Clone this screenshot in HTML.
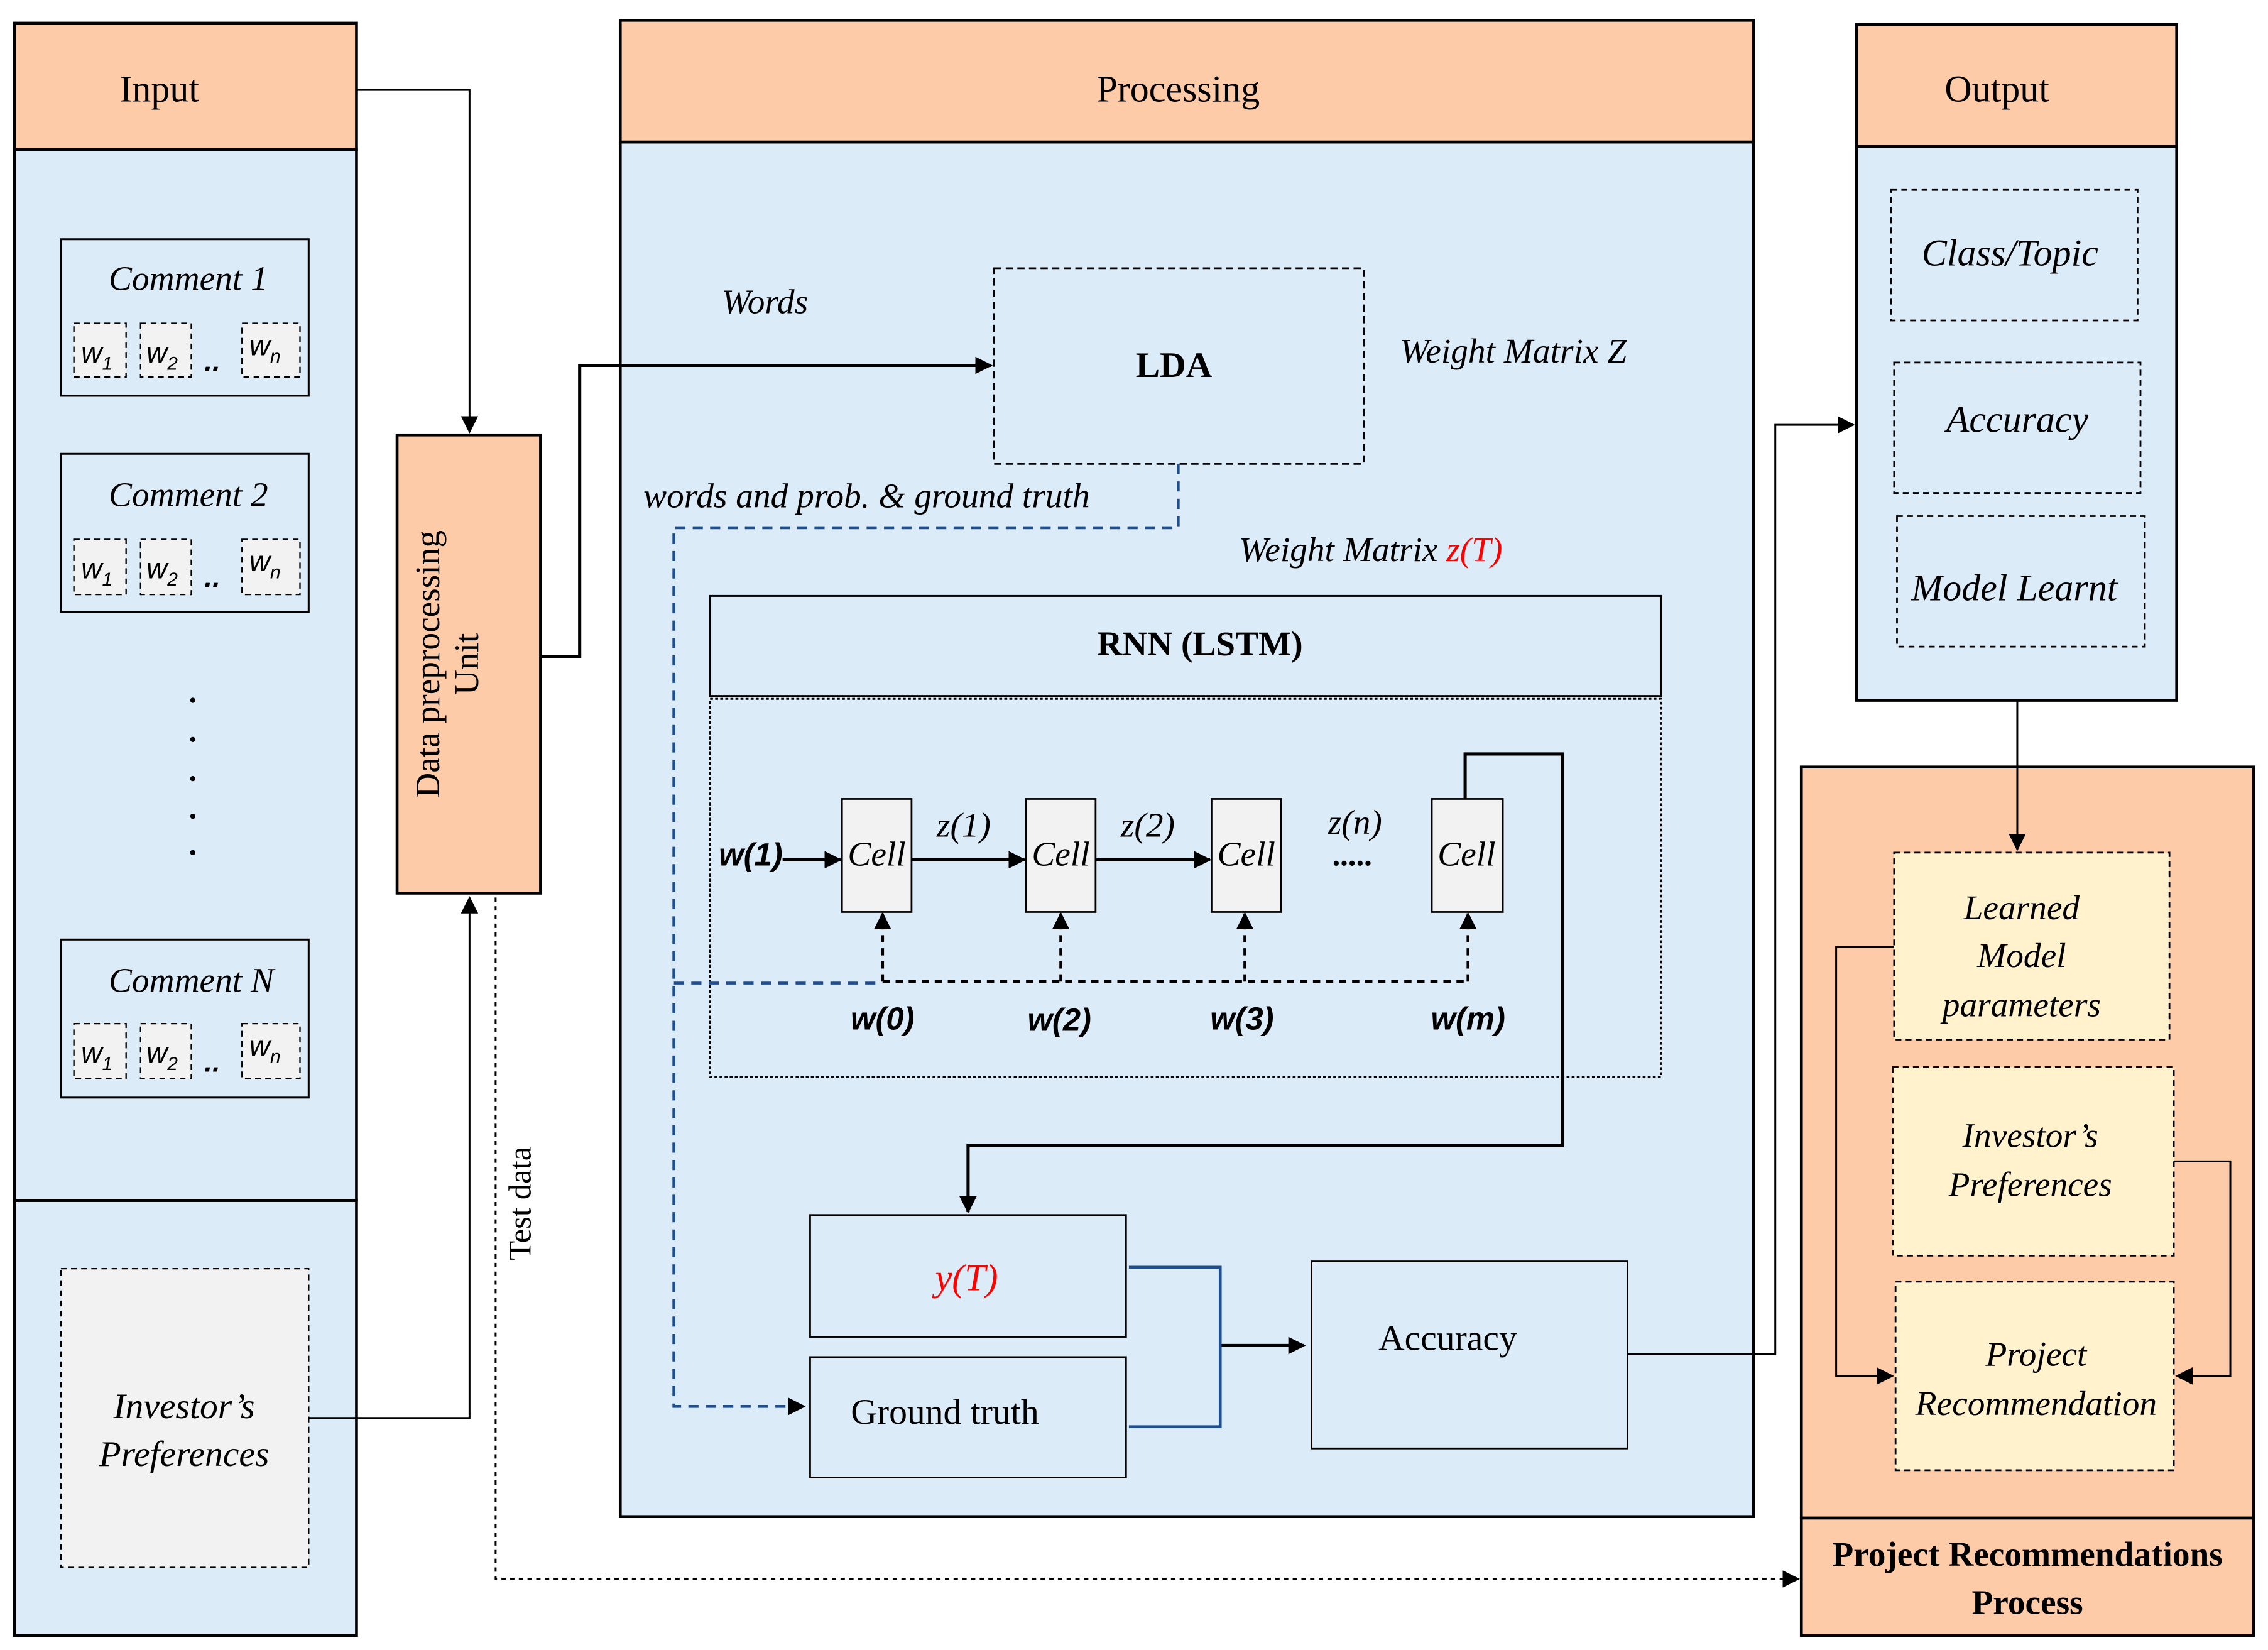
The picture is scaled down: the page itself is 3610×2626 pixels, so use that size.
<!DOCTYPE html>
<html><head><meta charset="utf-8"><style>
html,body{margin:0;padding:0;background:#fff;}
svg{display:block;}
text{font-family:"Liberation Serif",serif;fill:#000;}
.i{font-style:italic;}
.b{font-weight:bold;}
</style></head><body>
<svg width="3610" height="2626" viewBox="0 0 1565 1138" preserveAspectRatio="none" xmlns="http://www.w3.org/2000/svg">
<defs>
<marker id="a" markerWidth="8" markerHeight="8" refX="7" refY="4" orient="auto" markerUnits="userSpaceOnUse"><path d="M0,0 L8,4 L0,8z" fill="#000"/></marker>
<marker id="A" markerWidth="12" markerHeight="12" refX="11" refY="6" orient="auto" markerUnits="userSpaceOnUse"><path d="M0,0 L12,6 L0,12z" fill="#000"/></marker>
</defs>
<rect width="1565" height="1138" fill="#fff"/>
<!-- Input column -->
<rect x="10" y="16" width="236" height="87" fill="#fdcba8" stroke="#000" stroke-width="2"/>
<rect x="10" y="103" width="236" height="725" fill="#dbebf7" stroke="#000" stroke-width="2"/>
<rect x="10" y="828" width="236" height="300" fill="#dbebf7" stroke="#000" stroke-width="2"/>
<text x="110" y="70" font-size="26" text-anchor="middle">Input</text>
<g stroke="#000" stroke-width="1.3">
<rect x="42" y="165" width="171" height="108" fill="#dbebf7"/>
<rect x="42" y="313" width="171" height="109" fill="#dbebf7"/>
<rect x="42" y="648" width="171" height="109" fill="#dbebf7"/>
</g>
<g stroke="#000" stroke-width="1" stroke-dasharray="4,3" fill="#f2f2f2">
<rect x="51" y="223" width="36" height="37"/><rect x="97" y="223" width="35" height="37"/><rect x="167" y="223" width="40" height="37"/>
<rect x="51" y="372" width="36" height="38"/><rect x="97" y="372" width="35" height="38"/><rect x="167" y="372" width="40" height="38"/>
<rect x="51" y="706" width="36" height="38"/><rect x="97" y="706" width="35" height="38"/><rect x="167" y="706" width="40" height="38"/>
<rect x="42" y="875" width="171" height="206"/>
</g>
<g class="i" font-size="24" text-anchor="middle">
<text x="130" y="200" class="i">Comment 1</text>
<text x="130" y="349" class="i">Comment 2</text>
<text x="132" y="684" class="i">Comment N</text>
</g>
<g font-size="20" font-style="italic" font-family="Liberation Sans">
<text x="56" y="250" style="font-family:'Liberation Sans',sans-serif">w<tspan font-size="13" dy="5">1</tspan></text>
<text x="101" y="250" style="font-family:'Liberation Sans',sans-serif">w<tspan font-size="13" dy="5">2</tspan></text>
<text x="141" y="256" font-weight="bold" style="font-family:'Liberation Sans',sans-serif">..</text>
<text x="172" y="245" style="font-family:'Liberation Sans',sans-serif">w<tspan font-size="13" dy="5">n</tspan></text>
<text x="56" y="399" style="font-family:'Liberation Sans',sans-serif">w<tspan font-size="13" dy="5">1</tspan></text>
<text x="101" y="399" style="font-family:'Liberation Sans',sans-serif">w<tspan font-size="13" dy="5">2</tspan></text>
<text x="141" y="405" font-weight="bold" style="font-family:'Liberation Sans',sans-serif">..</text>
<text x="172" y="394" style="font-family:'Liberation Sans',sans-serif">w<tspan font-size="13" dy="5">n</tspan></text>
<text x="56" y="733" style="font-family:'Liberation Sans',sans-serif">w<tspan font-size="13" dy="5">1</tspan></text>
<text x="101" y="733" style="font-family:'Liberation Sans',sans-serif">w<tspan font-size="13" dy="5">2</tspan></text>
<text x="141" y="739" font-weight="bold" style="font-family:'Liberation Sans',sans-serif">..</text>
<text x="172" y="728" style="font-family:'Liberation Sans',sans-serif">w<tspan font-size="13" dy="5">n</tspan></text>
</g>
<g fill="#000"><circle cx="133" cy="483" r="1.8"/><circle cx="133" cy="510" r="1.8"/><circle cx="133" cy="537" r="1.8"/><circle cx="133" cy="563" r="1.8"/><circle cx="133" cy="588" r="1.8"/></g>
<text x="127" y="978" font-size="25" class="i" text-anchor="middle">Investor’s</text>
<text x="127" y="1011" font-size="25" class="i" text-anchor="middle">Preferences</text>
<!-- Data preprocessing -->
<rect x="274" y="300" width="99" height="316" fill="#fdcba8" stroke="#000" stroke-width="2"/>
<text transform="translate(303,458) rotate(-90)" font-size="24" text-anchor="middle">Data preprocessing</text>
<text transform="translate(330,458) rotate(-90)" font-size="24" text-anchor="middle">Unit</text>
<text transform="translate(366,830) rotate(-90)" font-size="22" text-anchor="middle">Test data</text>
<!-- Processing -->
<rect x="428" y="14" width="782" height="84" fill="#fdcba8" stroke="#000" stroke-width="2"/>
<rect x="428" y="98" width="782" height="948" fill="#dbebf7" stroke="#000" stroke-width="2"/>
<text x="813" y="70" font-size="26" text-anchor="middle">Processing</text>
<rect x="686" y="185" width="255" height="135" fill="#dbebf7" stroke="#000" stroke-width="1.2" stroke-dasharray="5,3"/>
<text x="810" y="260" font-size="25" class="b" text-anchor="middle">LDA</text>
<text x="498" y="216" font-size="24" class="i">Words</text>
<text x="966" y="250" font-size="24" class="i">Weight Matrix Z</text>
<text x="444" y="350" font-size="24" class="i">words and prob. &amp; ground truth</text>
<text x="855" y="387" font-size="24" class="i">Weight Matrix <tspan fill="#f00">z(T)</tspan></text>
<rect x="490" y="411" width="656" height="69" fill="#dbebf7" stroke="#000" stroke-width="1.3"/>
<text x="828" y="452" font-size="24" class="b" text-anchor="middle">RNN (LSTM)</text>
<rect x="490" y="482" width="656" height="261" fill="none" stroke="#000" stroke-width="1.3" stroke-dasharray="2,1.5"/>
<g fill="#f2f2f2" stroke="#000" stroke-width="1.2">
<rect x="581" y="551" width="48" height="78"/><rect x="708" y="551" width="48" height="78"/><rect x="836" y="551" width="48" height="78"/><rect x="988" y="551" width="49" height="78"/>
</g>
<g font-size="24" class="i" text-anchor="middle">
<text x="605" y="597" class="i">Cell</text><text x="732" y="597" class="i">Cell</text><text x="860" y="597" class="i">Cell</text><text x="1012" y="597" class="i">Cell</text>
<text x="665" y="577" class="i">z(1)</text><text x="792" y="577" class="i">z(2)</text><text x="935" y="575" class="i">z(n)</text>
</g>
<text x="933" y="597" font-size="22" text-anchor="middle" class="b">.....</text>
<g font-size="22" font-style="italic" font-weight="bold" text-anchor="middle" style="font-family:'Liberation Sans',sans-serif">
<text x="518" y="597" style="font-family:'Liberation Sans',sans-serif">w(1)</text>
<text x="609" y="710" style="font-family:'Liberation Sans',sans-serif">w(0)</text>
<text x="731" y="711" style="font-family:'Liberation Sans',sans-serif">w(2)</text>
<text x="857" y="710" style="font-family:'Liberation Sans',sans-serif">w(3)</text>
<text x="1013" y="710" style="font-family:'Liberation Sans',sans-serif">w(m)</text>
</g>
<g stroke="#000" stroke-width="2.2" fill="none">
<line x1="540" y1="593" x2="580" y2="593" marker-end="url(#A)"/>
<line x1="629" y1="593" x2="707" y2="593" marker-end="url(#A)"/>
<line x1="756" y1="593" x2="835" y2="593" marker-end="url(#A)"/>
<polyline points="1011,551 1011,520 1078,520 1078,790 668,790 668,836" marker-end="url(#A)"/>
<line x1="842" y1="928" x2="900" y2="928" marker-end="url(#A)"/>
</g>
<g stroke="#000" stroke-width="2" fill="none" stroke-dasharray="5,4">
<line x1="609" y1="677" x2="1013" y2="677"/>
<line x1="609" y1="677" x2="609" y2="630" marker-end="url(#A)"/>
<line x1="732" y1="677" x2="732" y2="630" marker-end="url(#A)"/>
<line x1="859" y1="677" x2="859" y2="630" marker-end="url(#A)"/>
<line x1="1013" y1="677" x2="1013" y2="630" marker-end="url(#A)"/>
</g>
<polyline points="813,320 813,364 465,364 465,970 555,970" fill="none" stroke="#1f4e8c" stroke-width="2" stroke-dasharray="7,5" marker-end="url(#A)"/>
<line x1="465" y1="678" x2="609" y2="678" stroke="#1f4e8c" stroke-width="2" stroke-dasharray="7,5"/>
<rect x="559" y="838" width="218" height="84" fill="#dbebf7" stroke="#000" stroke-width="1.2"/>
<rect x="559" y="936" width="218" height="83" fill="#dbebf7" stroke="#000" stroke-width="1.2"/>
<rect x="905" y="870" width="218" height="129" fill="#dbebf7" stroke="#000" stroke-width="1.2"/>
<text x="667" y="890" font-size="26" class="i" fill="#f00" text-anchor="middle" style="fill:#f00">y(T)</text>
<text x="652" y="982" font-size="25" text-anchor="middle">Ground truth</text>
<text x="999" y="931" font-size="25" text-anchor="middle">Accuracy</text>
<polyline points="779,874 842,874 842,984 779,984" fill="none" stroke="#1f4e8c" stroke-width="2"/>
<!-- Output -->
<rect x="1281" y="17" width="221" height="84" fill="#fdcba8" stroke="#000" stroke-width="2"/>
<rect x="1281" y="101" width="221" height="382" fill="#dbebf7" stroke="#000" stroke-width="2"/>
<text x="1378" y="70" font-size="26" text-anchor="middle">Output</text>
<g fill="#dbebf7" stroke="#000" stroke-width="1.2" stroke-dasharray="4,3">
<rect x="1305" y="131" width="170" height="90"/><rect x="1307" y="250" width="170" height="90"/><rect x="1309" y="356" width="171" height="90"/>
</g>
<g font-size="26" class="i" text-anchor="middle">
<text x="1387" y="183" class="i">Class/Topic</text><text x="1392" y="298" class="i">Accuracy</text><text x="1390" y="414" class="i">Model Learnt</text>
</g>
<!-- Project rec -->
<rect x="1243" y="529" width="312" height="518" fill="#fdcba8" stroke="#000" stroke-width="2"/>
<rect x="1243" y="1047" width="312" height="81" fill="#fdcba8" stroke="#000" stroke-width="2"/>
<text x="1399" y="1080" font-size="24" class="b" text-anchor="middle">Project Recommendations</text>
<text x="1399" y="1113" font-size="24" class="b" text-anchor="middle">Process</text>
<g fill="#fff2cc" stroke="#000" stroke-width="1.2" stroke-dasharray="4,3">
<rect x="1307" y="588" width="190" height="129"/><rect x="1306" y="736" width="194" height="130"/><rect x="1308" y="884" width="192" height="130"/>
</g>
<g font-size="24" class="i" text-anchor="middle">
<text x="1395" y="634" class="i">Learned</text><text x="1395" y="667" class="i">Model</text><text x="1395" y="701" class="i">parameters</text>
<text x="1401" y="791" class="i">Investor’s</text><text x="1401" y="825" class="i">Preferences</text>
<text x="1405" y="942" class="i">Project</text><text x="1405" y="976" class="i">Recommendation</text>
</g>
<!-- connectors -->
<g stroke="#000" stroke-width="1.3" fill="none">
<polyline points="246,62 324,62 324,298" marker-end="url(#A)"/>
<polyline points="213,978 324,978 324,619" marker-end="url(#A)"/>
<polyline points="373,453 400,453 400,252 684,252" stroke-width="2.2" marker-end="url(#A)"/>
<polyline points="1123,934 1225,934 1225,293 1279,293" marker-end="url(#A)"/>
<polyline points="1392,483 1392,586" marker-end="url(#A)"/>
<polyline points="1307,653 1267,653 1267,949 1306,949" marker-end="url(#A)"/>
<polyline points="1500,801 1539,801 1539,949 1502,949" marker-end="url(#A)"/>
<polyline points="342,619 342,1089 1241,1089" stroke-dasharray="3,3" marker-end="url(#A)"/>
</g>
</svg>
</body></html>
